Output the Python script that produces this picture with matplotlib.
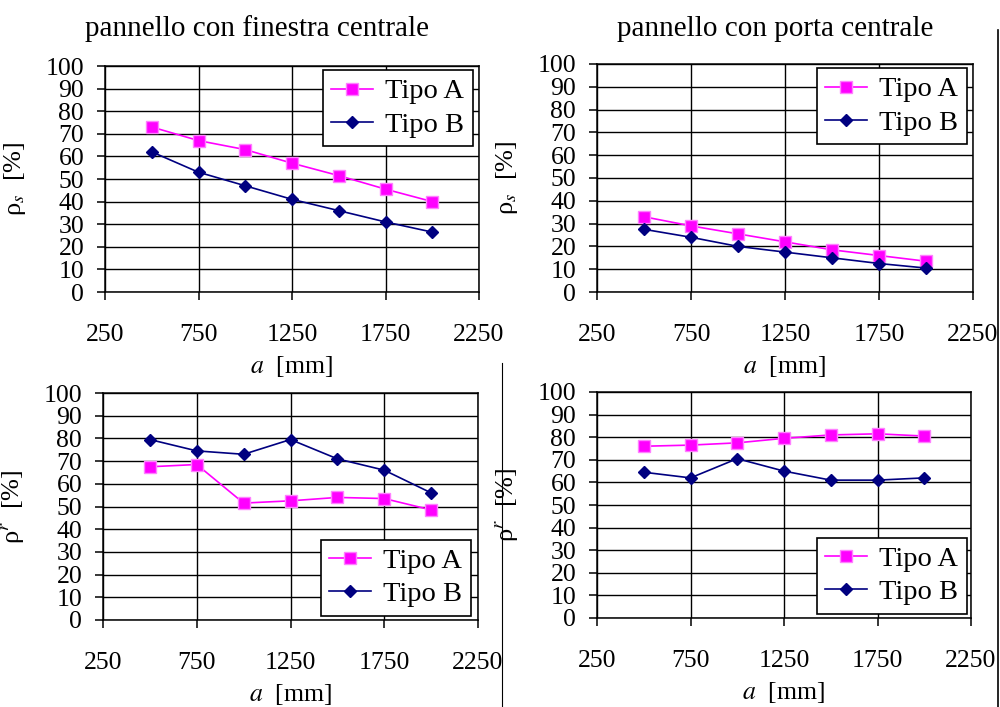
import numpy as np
import matplotlib
matplotlib.use('Agg')
import matplotlib.pyplot as plt
from matplotlib.lines import Line2D

plt.rcParams['font.family'] = ['Liberation Serif', 'DejaVu Serif']
plt.rcParams['mathtext.fontset'] = 'stix'

# panel spacing a [mm]
a_mm = [500, 750, 1000, 1250, 1500, 1750, 2000]

# rho_s, pannello con finestra centrale
fin_s_A = [73, 67, 63, 57, 51.5, 45.5, 40]
fin_s_B = [62, 53, 47, 41, 36, 31, 26.5]
# rho_s, pannello con porta centrale
por_s_A = [33, 29, 25.5, 22, 18.5, 16, 13.5]
por_s_B = [27.5, 24, 20, 17.5, 15, 12.5, 10.5]
# rho_r, pannello con finestra centrale
fin_r_A = [67.5, 68.5, 51.5, 52.5, 54, 53.5, 48.5]
fin_r_B = [79.5, 74.5, 73, 79.5, 71, 66, 56]
# rho_r, pannello con porta centrale
por_r_A = [76, 76.5, 77.5, 79.5, 81, 81.5, 80.5]
por_r_B = [64.5, 62, 70.5, 65, 61, 61, 62]

titles = ['pannello con finestra centrale', 'pannello con porta centrale']
x_ticks = [250, 750, 1250, 1750, 2250]
y_ticks = list(range(0, 101, 10))

W, H = 1000, 707
fig = plt.figure(figsize=(10, 7.07), dpi=100)

def px_axes(x0, x1, y0, y1):
    # pixel box (left, right, top, bottom) -> figure axes
    return fig.add_axes([x0/W, 1 - y1/H, (x1 - x0)/W, (y1 - y0)/H])

def panel(ax, yA, yB, ylab, leg_corner, leg_loc):
    ax.plot(a_mm, yA, color='#FF00FF', lw=1.2, marker='s', ms=9,
            mfc='#FF00FF', mec='#FF80FF', mew=1, label='Tipo A', zorder=4)
    ax.plot(a_mm, yB, color='#000080', lw=1.2, marker='D', ms=6.5,
            mfc='#000080', mec='#000080', label='Tipo B', zorder=4)
    ax.set_xlim(250, 2250)
    ax.set_ylim(0, 100)
    ax.set_xticks(x_ticks)
    ax.set_yticks(y_ticks)
    ax.grid(True, color='black', lw=1.0)
    ax.set_axisbelow(True)
    for s in ax.spines.values():
        s.set_linewidth(1.1)
    ax.tick_params(axis='both', direction='out', length=6, width=1.1,
                   labelsize=18.5, colors='black')
    ax.tick_params(axis='x', pad=17)
    ax.tick_params(axis='y', pad=9)
    ax.set_xlabel('$a$  [mm]', fontsize=18.5, labelpad=6)
    ax.set_ylabel(ylab, fontsize=19)
    ax.yaxis.set_label_coords(-0.205, 0.5)
    leg = ax.legend(loc=leg_loc, bbox_to_anchor=(leg_corner[0]/W, 1 - leg_corner[1]/H),
                    bbox_transform=fig.transFigure, borderaxespad=0,
                    fontsize=20.5, frameon=True, fancybox=False, framealpha=1,
                    edgecolor='black', handlelength=1.45, handletextpad=0.45,
                    labelspacing=0.25, borderpad=0.3)
    leg.get_frame().set_linewidth(1.2)

ax1 = px_axes(105, 479, 66, 292)
panel(ax1, fin_s_A, fin_s_B, 'ρ$_s$  [%]', (473, 70), 'upper right')
ax2 = px_axes(597, 973, 64, 292)
panel(ax2, por_s_A, por_s_B, 'ρ$_s$  [%]', (967, 68), 'upper right')
ax3 = px_axes(103, 478, 393, 620)
panel(ax3, fin_r_A, fin_r_B, 'ρ$^r$  [%]', (471, 616), 'lower right')
ax4 = px_axes(597, 971, 392, 618)
panel(ax4, por_r_A, por_r_B, 'ρ$^r$  [%]', (967, 614), 'lower right')

fig.text(257/W, 1 - 29/H, titles[0], fontsize=21, ha='center', va='center')
fig.text(775/W, 1 - 29/H, titles[1], fontsize=21, ha='center', va='center')

# separator lines
fig.add_artist(Line2D([502/W, 502/W], [0, 1 - 363/H], color='black', lw=0.8))
fig.add_artist(Line2D([998/W, 998/W], [0, 1 - 30/H], color='black', lw=1.2))

plt.savefig('out.png', dpi=100)
